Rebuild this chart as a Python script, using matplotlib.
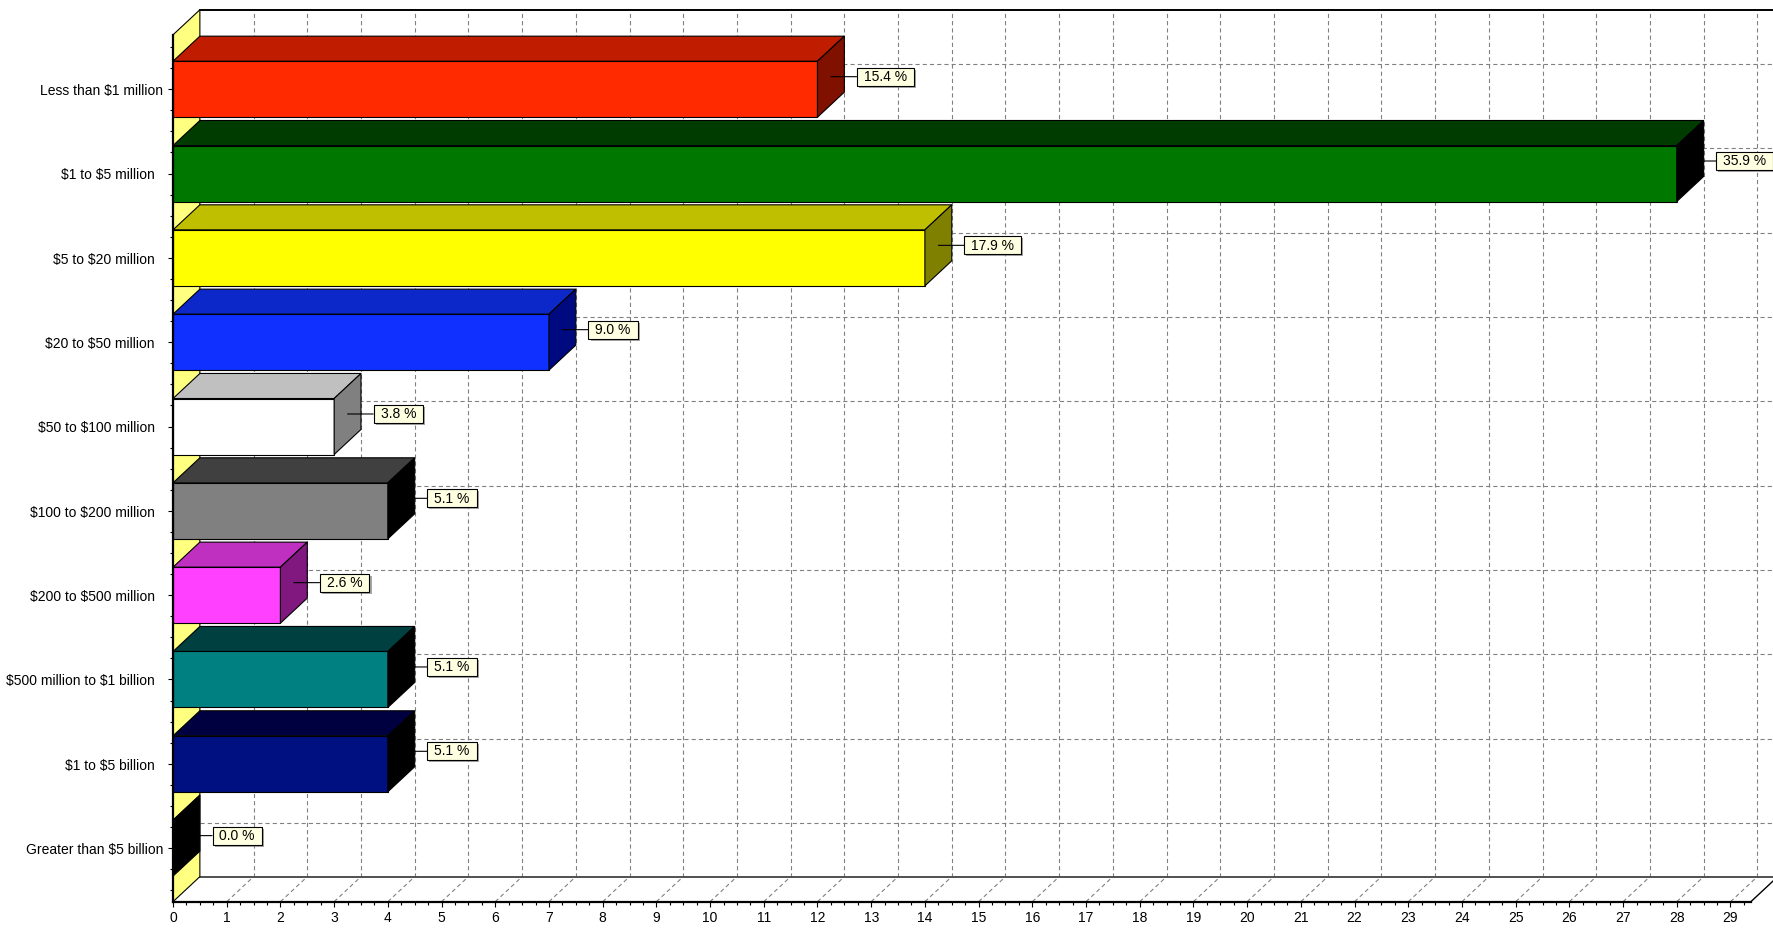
import matplotlib
matplotlib.use("Agg")
import matplotlib.pyplot as plt
from matplotlib.patches import Polygon
from matplotlib.path import Path
from matplotlib.ticker import MultipleLocator
import matplotlib.patheffects as pe

plt.rcParams["font.family"] = ["Liberation Sans", "DejaVu Sans"]
plt.rcParams["text.parse_math"] = False
plt.rcParams["lines.scale_dashes"] = False

# ---- data -------------------------------------------------------------
categories = [
    "Less than $1 million",
    "$1 to $5 million",
    "$5 to $20 million",
    "$20 to $50 million",
    "$50 to $100 million",
    "$100 to $200 million",
    "$200 to $500 million",
    "$500 million to $1 billion",
    "$1 to $5 billion",
    "Greater than $5 billion",
]
counts = [12, 28, 14, 7, 3, 4, 2, 4, 4, 0]
x_ticks = list(range(0, 30))

# ---- styles -------------------------------------------------------------
face_colors = ["#FF2A00", "#007800", "#FFFF00", "#1030FF", "#FFFFFF",
               "#808080", "#FF40FF", "#008080", "#001080", "#000000"]
top_colors = ["#C01C00", "#003C00", "#BFBF00", "#0C28C8", "#C0C0C0",
              "#404040", "#C030C0", "#004040", "#000040", "#000000"]
end_colors = ["#801000", "#000000", "#808000", "#000A80", "#808080",
              "#000000", "#801880", "#000000", "#000000", "#000000"]
label_pads = [3.6, 9.4, 9.4, 9.4, 9.4, 9.4, 9.4, 9.4, 9.4, 3.6]

X_MAX = 29.38
Y_TOP, Y_BOT = -0.645, 9.635
DX, DY = 0.5, 0.297          # depth of the 3-D box in data units
HALF = 0.332                 # half height of a bar's front face
GRID = "#808080"
DASH = (0, (3.0, 2.2))
EDGE_LW = 0.8

W_PX, H_PX = 1773, 929
total = sum(counts)

fig = plt.figure(figsize=((W_PX + 0.2) / 100, (H_PX + 0.2) / 100), dpi=100)
fig.patch.set_facecolor("white")
ax = fig.add_axes([173 / W_PX, (H_PX - 901.7) / H_PX,
                   (1750.7 - 173) / W_PX, (901.7 - 35) / H_PX])
ax.set_xlim(0, X_MAX)
ax.set_ylim(Y_BOT, Y_TOP)
ax.patch.set_alpha(0)

back_top = Y_TOP - DY
back_bot = Y_BOT - DY
back_right = X_MAX + DX

# back wall grid
for k in x_ticks[1:]:
    ax.plot([k + DX, k + DX], [back_bot, back_top], color=GRID, lw=0.8,
            ls=DASH, clip_on=False, zorder=1)
    # floor guide lines
    ax.plot([k, k + DX], [Y_BOT, back_bot], color=GRID, lw=0.8,
            ls=DASH, clip_on=False, zorder=1)
for i in range(len(categories)):
    ax.plot([DX, back_right], [i - DY, i - DY], color=GRID, lw=0.8,
            ls=DASH, clip_on=False, zorder=1)

# back wall and floor outline
ax.plot([DX, back_right], [back_top, back_top], color="black", lw=1.4,
        clip_on=False, zorder=1.5)
ax.plot([DX, back_right], [back_bot, back_bot], color="#505050", lw=1.4,
        clip_on=False, zorder=1.5)
ax.plot([X_MAX, back_right], [Y_BOT, back_bot], color="black", lw=1.0,
        clip_on=False, zorder=1.5)

# left side wall
wall = Polygon([(0, Y_TOP), (DX, back_top), (DX, back_bot), (0, Y_BOT)],
               closed=True, facecolor="#FFFF80", edgecolor="black",
               lw=EDGE_LW, clip_on=False, zorder=2)
ax.add_patch(wall)


def label_box(x0, y0, width, height, mutation_size):
    padx = 0.5 * mutation_size
    pady = 0.14 * mutation_size
    xa, xb = x0 - padx, x0 + width + padx
    ya, yb = y0 - pady, y0 + height + pady
    return Path([(xa, ya), (xb, ya), (xb, yb), (xa, yb), (xa, ya)],
                closed=True)


# bars
for i, v in enumerate(counts):
    y0, y1 = i - HALF, i + HALF
    z = 3 + i * 0.01
    top = Polygon([(0, y0), (v, y0), (v + DX, y0 - DY), (DX, y0 - DY)],
                  closed=True, facecolor=top_colors[i], edgecolor="black",
                  lw=EDGE_LW, clip_on=False, zorder=z)
    front = Polygon([(0, y0), (v, y0), (v, y1), (0, y1)], closed=True,
                    facecolor=face_colors[i], edgecolor="black",
                    lw=EDGE_LW, clip_on=False, zorder=z)
    end = Polygon([(v, y0), (v + DX, y0 - DY), (v + DX, y1 - DY), (v, y1)],
                  closed=True, facecolor=end_colors[i], edgecolor="black",
                  lw=EDGE_LW, clip_on=False, zorder=z)
    for p in (top, front, end):
        ax.add_patch(p)

    pct = v / total * 100
    ann = ax.annotate(f"{pct:.1f} %", xy=(v + DX / 2, i - DY / 2),
                      xytext=(33, 0), textcoords="offset pixels",
                      ha="left", va="center", fontsize=10, color="black",
                      bbox=dict(boxstyle=label_box, facecolor="#FFFFE1",
                                edgecolor="black", lw=0.8),
                      arrowprops=dict(arrowstyle="-", color="black", lw=0.8,
                                      shrinkA=0, shrinkB=0),
                      annotation_clip=False, zorder=10)
    ann.get_bbox_patch().set_path_effects([
        pe.SimplePatchShadow(offset=(1.5, -1.5), shadow_rgbFace="#808080",
                             alpha=0.7),
        pe.Normal(),
    ])

# front axes
for side in ("top", "right"):
    ax.spines[side].set_visible(False)
for side in ("left", "bottom"):
    ax.spines[side].set_linewidth(1.6)
    ax.spines[side].set_zorder(6)

ax.set_xticks(x_ticks)
ax.set_xticklabels([str(t) for t in x_ticks], fontsize=10)
ax.xaxis.set_minor_locator(MultipleLocator(0.25))
ax.set_yticks(range(len(categories)))
ax.set_yticklabels(categories, fontsize=10)
ax.yaxis.set_minor_locator(MultipleLocator(0.25))
ax.tick_params(which="major", direction="out", length=3.6, width=0.8,
               colors="black")
ax.tick_params(which="minor", direction="out", length=2.2, width=0.8,
               colors="black")
ax.tick_params(axis="x", which="major", pad=3)
for tick, pad in zip(ax.yaxis.get_major_ticks(), label_pads):
    tick.set_pad(pad)

fig.savefig("out.png", dpi=100, facecolor="white")
